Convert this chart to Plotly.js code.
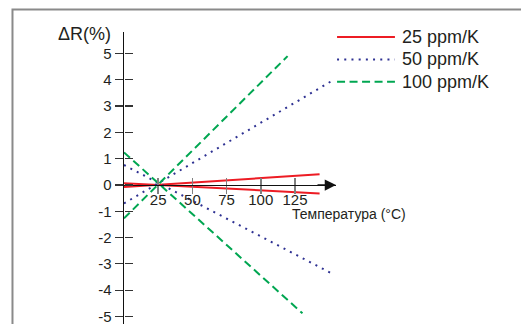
<!DOCTYPE html>
<html><head><meta charset="utf-8">
<script src="https://cdn.plot.ly/plotly-3.0.1.min.js"></script>
<style>html,body{margin:0;padding:0;background:#fff}#chart{width:521px;height:324px}</style>
</head><body><div id="chart"></div>
<script>
// ---- data ----
const seriesNames = ['25 ppm/K', '50 ppm/K', '100 ppm/K'];
const line25PosT = [0, 143];   const line25PosR = [-0.08, 0.41];
const line25NegT = [0, 143];   const line25NegR = [0.07, -0.32];
const line50PosT = [0, 154];   const line50PosR = [-0.70, 4.02];
const line50NegT = [0, 154];   const line50NegR = [0.76, -3.42];
const line100PosT = [0, 119.6]; const line100PosR = [-1.27, 4.90];
const line100NegT = [0, 130.5]; const line100NegR = [1.24, -4.88];
const xTickVals = [25, 50, 75, 100, 125];
const xTickText = ['25', '50', '75', '100', '125'];
const yTickVals = [-5, -4, -3, -2, -1, 0, 1, 2, 3, 4, 5];
const yTickText = ['-5', '-4', '-3', '-2', '-1', '0', '1', '2', '3', '4', '5'];
const xTitle = 'Температура (°C)';
const yTitle = 'ΔR(%)';

// ---- styles ----
const colors = ['#ed1c24', '#2e3192', '#00a651'];
const dashes = ['solid', '2px,5.2px', '8px,4.5px'];
const widths = [2, 2, 2];
const FONT = '"Liberation Sans", Arial, sans-serif';
const xRange = [0, 155];
const yRange = [-5.285, 5.817];
const xPos = (0 - yRange[0]) / (yRange[1] - yRange[0]);

function ln(i, x, y) {
  return {x: x, y: y, type: 'scatter', mode: 'lines', showlegend: false, hoverinfo: 'skip',
    line: {color: colors[i], dash: dashes[i], width: widths[i]}};
}
const traces = [
  ln(0, line25PosT, line25PosR), ln(0, line25NegT, line25NegR),
  ln(1, line50PosT, line50PosR), ln(1, line50NegT, line50NegR),
  ln(2, line100PosT, line100PosR), ln(2, line100NegT, line100NegR),
  {x: [], y: [], xaxis: 'x2', yaxis: 'y2', type: 'scatter', showlegend: false}
];

// custom legend
const legX0 = 1.005, legX1 = 1.278, legTx = 1.30;
const legY = [0.983, 0.906, 0.830];
const shapes = [
  {type: 'rect', xref: 'paper', yref: 'paper', x0: -0.526, x1: 2, y0: -0.3, y1: 1.077,
   line: {color: '#8a8a8a', width: 2}, layer: 'below'}
];
const annotations = [
  {xref: 'paper', yref: 'paper', x: -0.05, y: 0.993, xanchor: 'right', yanchor: 'middle',
   text: yTitle, showarrow: false, font: {family: FONT, size: 18, color: '#231f20'}},
  {xref: 'paper', yref: 'paper', x: 0.782, y: 0.378, xanchor: 'left', yanchor: 'middle',
   text: xTitle, showarrow: false, font: {family: FONT, size: 14, color: '#231f20'}},
  {xref: 'x', yref: 'y', x: xRange[1], y: 0, ax: -20, ay: 0, text: '', showarrow: true,
   arrowhead: 2, arrowsize: 1.5, arrowwidth: 1.5, arrowcolor: '#111'}
];
seriesNames.forEach((n, i) => {
  shapes.push({type: 'line', xref: 'paper', yref: 'paper', x0: legX0, x1: legX1, y0: legY[i], y1: legY[i],
    line: {color: colors[i], dash: dashes[i], width: widths[i]}});
  annotations.push({xref: 'paper', yref: 'paper', x: legTx, y: legY[i], xanchor: 'left', yanchor: 'middle',
    text: n, showarrow: false, font: {family: FONT, size: 18, color: '#231f20'}});
});

const layout = {
  width: 521, height: 324,
  margin: {l: 124, r: 185, t: 32, b: 0, pad: 0},
  paper_bgcolor: '#fff', plot_bgcolor: 'rgba(0,0,0,0)',
  font: {family: FONT, color: '#231f20'},
  showlegend: false,
  xaxis: {range: xRange, anchor: 'free', position: xPos, showgrid: false, zeroline: false,
    showline: true, linecolor: '#111', linewidth: 1.5,
    tickmode: 'array', tickvals: xTickVals, ticktext: xTickText, ticks: 'outside', ticklen: 8, tickwidth: 1.5,
    tickcolor: '#808080', tickfont: {size: 15, color: '#231f20'}, ticklabelstandoff: -7, fixedrange: true},
  xaxis2: {range: xRange, overlaying: 'x', anchor: 'free', position: xPos, showgrid: false,
    zeroline: false, showline: false, tickmode: 'array', tickvals: xTickVals, ticks: 'inside',
    ticklen: 7, tickwidth: 1.5, tickcolor: '#808080', showticklabels: false},
  yaxis: {range: yRange, showgrid: false, zeroline: false, showline: true, linecolor: '#111',
    linewidth: 1.5, tickmode: 'array', tickvals: yTickVals, ticktext: yTickText, ticks: 'outside', ticklen: 8,
    tickwidth: 1.2, tickcolor: '#333', tickfont: {size: 15, color: '#231f20'},
    ticklabeloverflow: 'allow', fixedrange: true},
  yaxis2: {range: yRange, overlaying: 'y', anchor: 'free', position: 0, side: 'left',
    showgrid: false, zeroline: false, showline: false, tickmode: 'array', tickvals: yTickVals,
    ticks: 'inside', ticklen: 8, tickwidth: 1.2, tickcolor: '#333', showticklabels: false},
  shapes: shapes,
  annotations: annotations
};
Plotly.newPlot('chart', traces, layout, {displayModeBar: false, staticPlot: true});
</script></body></html>
